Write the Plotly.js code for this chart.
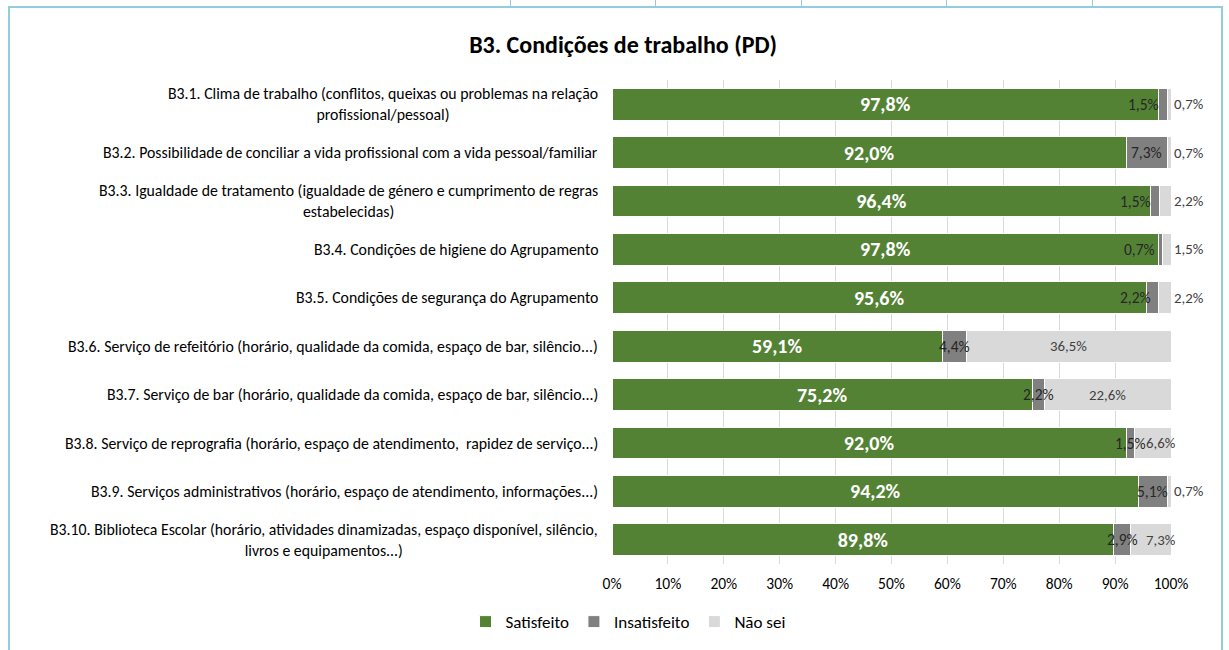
<!DOCTYPE html>
<html>
<head>
<meta charset="utf-8">
<script src="https://cdn.plot.ly/plotly-3.0.1.min.js"></script>
<style>
  body { margin: 0; background: #fff; }
  #chart { width: 1229px; height: 650px; }
  .frame { position: absolute; left: 8px; top: 6px; width: 1211px; height: 660px;
           border-left: 2px solid #92cddc; border-top: 2px solid #92cddc; border-right: 2px solid #92cddc;
           pointer-events: none; }
  .cell { position: absolute; top: 0; width: 1px; height: 7px; background: #92cddc; }
</style>
</head>
<body>
<div id="chart"></div>
<div class="frame"></div>
<div class="cell" style="left:510px"></div>
<div class="cell" style="left:655px"></div>
<div class="cell" style="left:801px"></div>
<div class="cell" style="left:946px"></div>
<div class="cell" style="left:1092px"></div>
<script>
var itens = [
  'B3.1. Clima de trabalho (conflitos, queixas ou problemas na relação<br>profissional/pessoal)',
  'B3.2. Possibilidade de conciliar a vida profissional com a vida pessoal/familiar',
  'B3.3. Igualdade de tratamento (igualdade de género e cumprimento de regras<br>estabelecidas)',
  'B3.4. Condições de higiene do Agrupamento',
  'B3.5. Condições de segurança do Agrupamento',
  'B3.6. Serviço de refeitório (horário, qualidade da comida, espaço de bar, silêncio...)',
  'B3.7. Serviço de bar (horário, qualidade da comida, espaço de bar, silêncio...)',
  'B3.8. Serviço de reprografia (horário, espaço de atendimento,  rapidez de serviço...)',
  'B3.9. Serviços administrativos (horário, espaço de atendimento, informações...)',
  'B3.10. Biblioteca Escolar (horário, atividades dinamizadas, espaço disponível, silêncio,<br>livros e equipamentos...)'
];
var satisfeito   = [97.8, 92.0, 96.4, 97.8, 95.6, 59.1, 75.2, 92.0, 94.2, 89.8];
var insatisfeito = [1.5, 7.3, 1.5, 0.7, 2.2, 4.4, 2.2, 1.5, 5.1, 2.9];
var naoSei       = [0.7, 0.7, 2.2, 1.5, 2.2, 36.5, 22.6, 6.6, 0.7, 7.3];
var xTicks = [0, 10, 20, 30, 40, 50, 60, 70, 80, 90, 100];

var fonte = 'Carlito, Calibri, "Liberation Sans", Arial, sans-serif';
var cats = itens.map(function (t, i) { return 'c' + i; });

var trace1 = {
  type: 'bar', orientation: 'h', name: 'Satisfeito',
  y: cats, x: satisfeito,
  marker: { color: '#548235', line: { color: '#ffffff', width: 1 } },
  texttemplate: '%{x:.1f}%', textposition: 'inside', insidetextanchor: 'middle',
  textfont: { color: '#ffffff', size: 20, family: fonte, weight: 'bold' },
  hoverinfo: 'x+name'
};
var trace2 = {
  type: 'bar', orientation: 'h', name: 'Insatisfeito',
  y: cats, x: insatisfeito,
  marker: { color: '#808080', line: { color: '#ffffff', width: 1 } },
  textposition: 'none', hoverinfo: 'x+name'
};
var trace3 = {
  type: 'bar', orientation: 'h', name: 'Não sei',
  y: cats, x: naoSei,
  marker: { color: '#d9d9d9', line: { color: '#ffffff', width: 1 } },
  textposition: 'none', hoverinfo: 'x+name'
};

function pct(v) { return v.toFixed(1).replace('.', ',') + '%'; }

var anotacoes = [];
cats.forEach(function (c, i) {
  // category label, lines centred like the original
  anotacoes.push({
    xref: 'paper', x: 0, xanchor: 'right', xshift: -12,
    yref: 'y', y: c, yanchor: 'middle',
    text: itens[i], showarrow: false, align: 'center',
    font: { family: fonte, size: 15.8, color: '#000000' }
  });
  var s = satisfeito[i], n = insatisfeito[i], ns = naoSei[i];
  var small = n < 3 && ns < 3;
  anotacoes.push({
    xref: 'x', x: small ? s + n : s + n / 2, xanchor: small ? 'right' : 'center', xshift: small ? -6 : 0,
    yref: 'y', y: c, yanchor: 'middle', showarrow: false,
    text: pct(n), font: { family: fonte, size: 15.5, color: '#262626' }
  });
  var nx, nanchor, nshift;
  if (ns < 3) { nx = 100; nanchor = 'left'; nshift = 1; }
  else if (ns < 10) { nx = 100; nanchor = 'right'; nshift = 7; }
  else { nx = s + n + ns / 2; nanchor = 'center'; nshift = 0; }
  anotacoes.push({
    xref: 'x', x: nx, xanchor: nanchor, xshift: nshift,
    yref: 'y', y: c, yanchor: 'middle', showarrow: false,
    text: pct(ns), font: { family: fonte, size: 14.8, color: '#404040' }
  });
});

var layout = {
  width: 1229, height: 650,
  barmode: 'stack', bargap: 0.34,
  separators: ', ',
  paper_bgcolor: '#ffffff', plot_bgcolor: '#ffffff',
  font: { family: fonte, color: '#000000' },
  margin: { l: 612, r: 58, t: 80, b: 86 },
  title: {
    text: '<b>B3. Condições de trabalho (PD)</b>',
    font: { family: fonte, size: 24, color: '#000000' },
    xref: 'container', x: 0.507, xanchor: 'center',
    yref: 'container', y: 0.931, yanchor: 'middle'
  },
  xaxis: {
    range: [0, 100], tickvals: xTicks, ticktext: xTicks.map(function (v) { return v + '%'; }),
    showgrid: true, gridcolor: '#d9d9d9', gridwidth: 1,
    zeroline: false, showline: false, ticks: '',
    ticklabelstandoff: 8,
    tickfont: { family: fonte, size: 15.5, color: '#000000' },
    fixedrange: true
  },
  yaxis: {
    autorange: 'reversed', showticklabels: false, showgrid: false,
    zeroline: false, showline: false, ticks: '', fixedrange: true
  },
  showlegend: true,
  legend: {
    orientation: 'h', xref: 'container', x: 0.511, xanchor: 'center',
    yref: 'container', y: 0.043, yanchor: 'middle',
    font: { family: fonte, size: 17, color: '#000000' },
    traceorder: 'normal', itemwidth: 30
  },
  annotations: anotacoes
};

var config = { responsive: false, displayModeBar: false };

Plotly.newPlot('chart', [trace1, trace2, trace3], layout, config);
</script>
</body>
</html>
